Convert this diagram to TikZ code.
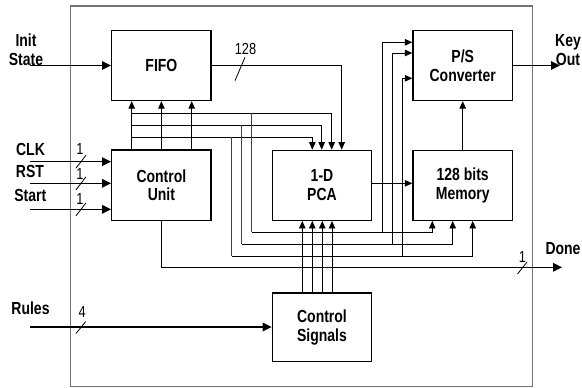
\documentclass[tikz,border=0pt]{standalone}
\usepackage{fontspec}
\setmainfont{Liberation Sans}[FakeStretch=0.8]
\usetikzlibrary{arrows.meta}
\begin{document}
\begin{tikzpicture}[x=1pt,y=-1pt,
  box/.style={draw,line width=1.3pt,minimum width=99.4pt,minimum height=70pt,inner sep=0pt,
    font=\bfseries\fontsize{17.5}{18.5}\selectfont,align=center},
  lbl/.style={font=\bfseries\fontsize{17.5}{19}\selectfont,align=center,inner sep=0pt},
  num/.style={font=\fontsize{16}{16}\selectfont,inner sep=0pt},
  ext/.style={line width=1.5pt,-{Triangle[length=9pt,width=8.5pt]}},
  sig/.style={line width=0.9pt,draw=black!75,-{Triangle[length=7.5pt,width=6.5pt]},color=black},
  wire/.style={line width=0.9pt,draw=black!75},
  tick/.style={line width=0.8pt}
]
\useasboundingbox (0,0) rectangle (582,388);
% outer box
\draw[line width=1.3pt,draw=black!55] (70.7,6) rectangle (532.3,386.7);

% blocks
\node[box] (fifo) at (161.4,65.5) {FIFO};
\node[box,minimum height=70.5pt] (cu) at (161.4,185.2) {Control\\Unit};
\node[box,minimum height=70pt] (pca) at (322,185.3) {1-D\\PCA};
\node[box,minimum height=70pt] (mem) at (462.7,185.3) {128 bits\\Memory};
\node[box] (ps) at (462.7,65.5) {P/S\\Converter};
\node[box,minimum height=68.7pt] (cs) at (322,327.3) {Control\\Signals};

% external labels
\node[lbl] (linit) at (26,50) {Init\\State};
\node[lbl] (lclk) at (30.5,149) {CLK};
\node[lbl] (lrst) at (30,171.5) {RST};
\node[lbl] (lstart) at (30.3,195.5) {Start};
\node[lbl] (lrules) at (30.5,308) {Rules};
\node[lbl] (lkey) at (568,50) {Key\\Out};
\node[lbl] (ldone) at (563,249) {Done};

% free ends
\coordinate (iin) at (30,65.5);
\coordinate (clkin) at (30,161.7);
\coordinate (rstin) at (30,183.3);
\coordinate (stin) at (30,209.3);
\coordinate (rin) at (30,327);
\coordinate (kout) at (560,65.5);
\coordinate (dturn) at (161.4,267.3);
\coordinate (dout) at (562,267.3);

% external arrows
\draw[ext] (iin) -- (fifo.west);
\draw[ext] (clkin) -- (cu.west |- clkin);
\draw[ext] (rstin) -- (cu.west |- rstin);
\draw[ext] (stin) -- (cu.west |- stin);
\draw[ext] (rin) -- (cs.west |- rin);
\draw[ext] (ps.east) -- (kout);
\draw[ext] (cu.south) -- (dturn) -- (dout);

% width ticks and numbers
\draw[tick] (86,155.2) -- (76,168.2);
\draw[tick] (86,176.8) -- (76,189.8);
\draw[tick] (86,202.8) -- (76,215.8);
\draw[tick] (85.7,321.5) -- (76,333.5);
\draw[tick] (527,262) -- (517.5,274);
\draw[tick] (245,57.3) -- (235,80.7);
\node[num] (n1) at (80,148.5) {1};
\node[num] (n2) at (80,173.5) {1};
\node[num] (n3) at (80,198.5) {1};
\node[num] (n4) at (82.3,312) {4};
\node[num] (n5) at (522.5,256.5) {1};
\node[num] (n6) at (245.5,48.7) {128};

% coordinates of the bundle
\coordinate (h1) at (131.7,113.3);
\coordinate (h2) at (131.7,125);
\coordinate (h3) at (131.7,137);
\coordinate (c3) at (191.7,0);
\coordinate (a1) at (331.7,0);
\coordinate (a2) at (321.7,0);
\coordinate (a3) at (312.3,0);
\coordinate (a0) at (341.7,0);
\coordinate (d1) at (251.7,232.3);
\coordinate (d2) at (241.7,244);
\coordinate (d3) at (231.7,256);
\coordinate (m1) at (432.3,0);
\coordinate (m2) at (452.7,0);
\coordinate (m3) at (472.7,0);
\coordinate (r1) at (382.3,42.3);
\coordinate (r2) at (392.5,53);
\coordinate (r3) at (402.5,78.3);
\coordinate (s1) at (302.3,0);
\coordinate (s2) at (312.3,0);
\coordinate (s3) at (322.3,0);
\coordinate (s4) at (332,0);

% control unit to FIFO
\draw[sig] (cu.north -| h1) -- (fifo.south -| h1);
\draw[sig] (cu.north) -- (fifo.south);
\draw[sig] (cu.north -| c3) -- (fifo.south -| c3);

% FIFO to PCA (128)
\draw[sig,draw=black] (fifo.east) -| (pca.north -| a0);

% bundle to PCA
\draw[sig] (h1) -| (pca.north -| a1);
\draw[sig] (h2) -| (pca.north -| a2);
\draw[sig] (h3) -| (pca.north -| a3);

% drops to memory
\draw[wire] (h1 -| d1) -- (d1);
\draw[wire] (h2 -| d2) -- (d2);
\draw[wire] (h3 -| d3) -- (d3);
\draw[sig] (d1) -| (mem.south -| m1);
\draw[sig] (d2) -| (mem.south -| m2);
\draw[sig] (d3) -| (mem.south -| m3);

% rises to P/S converter
\draw[sig] (d1 -| r1) -- (r1) -- (ps.west |- r1);
\draw[sig] (d2 -| r2) -- (r2) -- (ps.west |- r2);
\draw[sig] (d3 -| r3) -- (r3) -- (ps.west |- r3);

% control signals to PCA
\draw[sig,draw=black] (cs.north -| s1) -- (pca.south -| s1);
\draw[sig,draw=black] (cs.north -| s2) -- (pca.south -| s2);
\draw[sig] (cs.north -| s3) -- (pca.south -| s3);
\draw[sig] (cs.north -| s4) -- (pca.south -| s4);

% PCA -> memory, memory -> P/S
\draw[sig,draw=black] (pca.east |- 0,183.3) -- (mem.west |- 0,183.3);
\draw[sig,draw=black] (mem.north) -- (ps.south);
\end{tikzpicture}
\end{document}
